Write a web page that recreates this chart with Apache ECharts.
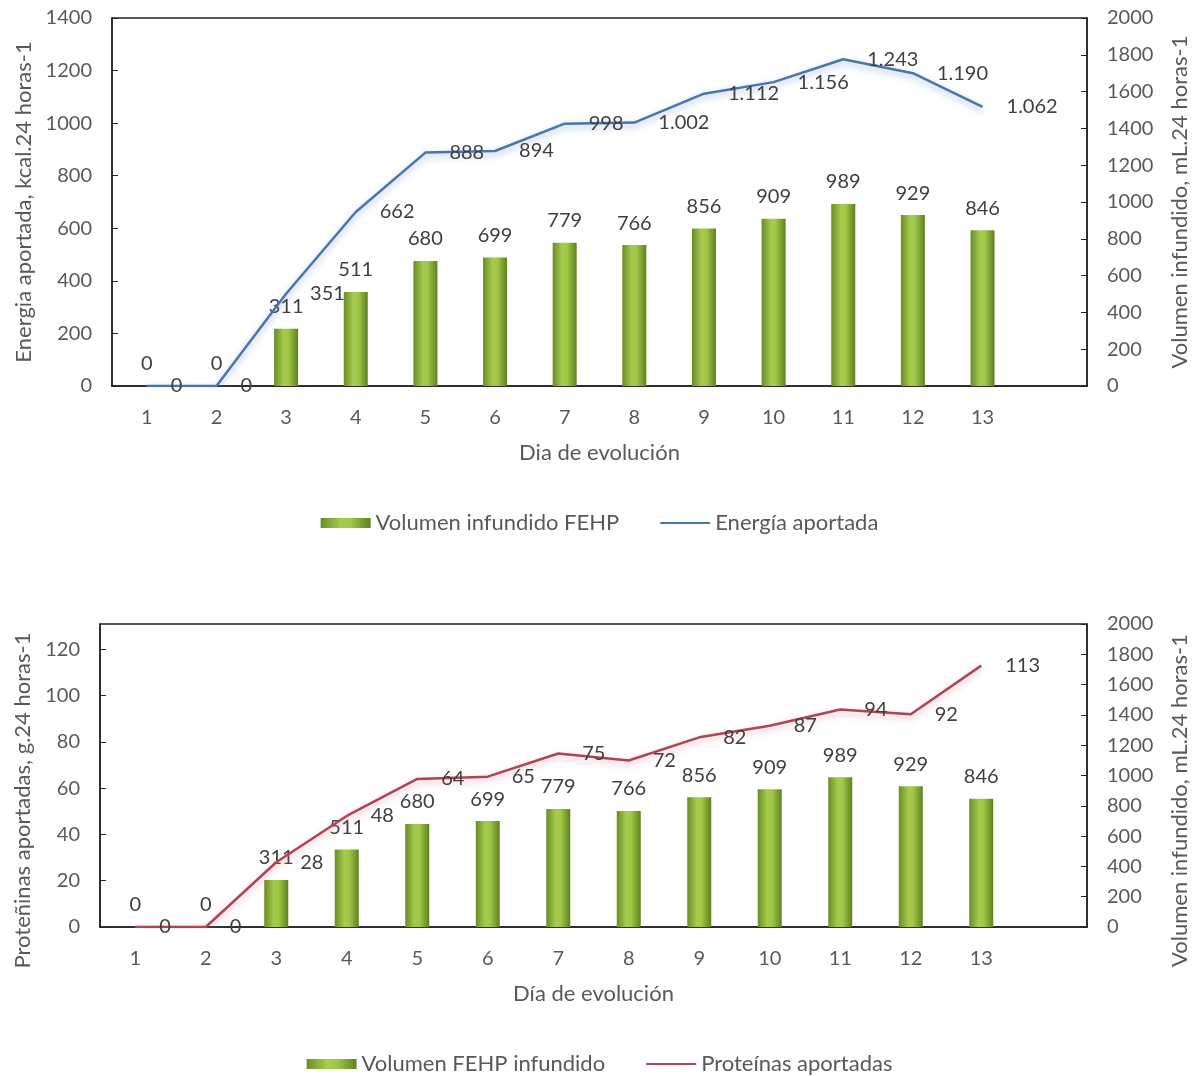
<!DOCTYPE html>
<html>
<head>
<meta charset="utf-8">
<script src="https://cdn.jsdelivr.net/npm/echarts@6/dist/echarts.min.js"></script>
<style>
  html, body { margin: 0; padding: 0; background: #fff; }
  #main { width: 1199px; height: 1076px; }
</style>
</head>
<body>
<div id="main"></div>
<script>
// datos
var dias = ['1', '2', '3', '4', '5', '6', '7', '8', '9', '10', '11', '12', '13', ''];
var volumen = [0, 0, 311, 511, 680, 699, 779, 766, 856, 909, 989, 929, 846];
var energia = [0, 0, 351, 662, 888, 894, 998, 1002, 1112, 1156, 1243, 1190, 1062];
var proteinas = [0, 0, 28, 48, 64, 65, 75, 72, 82, 87, 94, 92, 113];

var fuente = 'Lato';
var gris = '#595959';

function miles(v) {
  return String(v).replace(/\B(?=(\d{3})+(?!\d))/g, '.');
}

var verde = {
  type: 'linear', x: 0, y: 0, x2: 1, y2: 0,
  colorStops: [
    { offset: 0, color: '#6a8c25' },
    { offset: 0.4, color: '#a6cc4e' },
    { offset: 0.6, color: '#a0c748' },
    { offset: 1, color: '#5f801f' }
  ]
};

function ejeY(grid, pos, max, name, gap, pad) {
  return {
    type: 'value',
    gridIndex: grid,
    position: pos,
    min: 0,
    max: max,
    interval: max > 200 ? 200 : 20,
    name: name,
    nameLocation: 'middle',
    nameGap: gap,
    nameTextStyle: { color: gris, fontFamily: fuente, fontSize: 22, padding: pad || 0 },
    axisLine: { show: true, lineStyle: { color: '#222', width: 1.5 } },
    axisTick: { show: true, inside: true, length: 6, lineStyle: { color: '#222' } },
    axisLabel: {
      color: gris, fontFamily: fuente, fontSize: 20, margin: 20,
      formatter: function (v) { return String(v); }
    },
    splitLine: { show: false }
  };
}

function ejeX(grid, name, gap) {
  return {
    type: 'category',
    gridIndex: grid,
    data: dias,
    name: name,
    nameLocation: 'middle',
    nameGap: gap,
    nameTextStyle: { color: gris, fontFamily: fuente, fontSize: 22 },
    axisLine: { lineStyle: { color: '#222', width: 1.5 } },
    axisTick: { show: false },
    axisLabel: { color: gris, fontFamily: fuente, fontSize: 20, margin: 22 }
  };
}

function barras(name, x, y) {
  return {
    name: name,
    type: 'bar',
    xAxisIndex: x,
    yAxisIndex: y,
    data: volumen,
    barWidth: 24,
    itemStyle: { color: verde },
    label: { show: true, position: 'top', distance: 12, color: '#404040', fontFamily: fuente, fontSize: 20 }
  };
}

function linea(name, x, y, datos, color, sombra) {
  return {
    name: name,
    type: 'line',
    xAxisIndex: x,
    yAxisIndex: y,
    data: datos,
    symbol: 'circle',
    symbolSize: 0,
    z: 3,
    itemStyle: { color: color },
    lineStyle: { color: color, width: 2.5, shadowColor: sombra, shadowBlur: 7, shadowOffsetY: 3 },
    label: {
      show: true,
      position: 'right',
      distance: 24,
      color: '#404040',
      fontFamily: fuente,
      fontSize: 20,
      formatter: function (p) { return miles(p.value); }
    }
  };
}

function leyenda(top, barra, lin) {
  return {
    top: top, left: 'center', itemWidth: 50, itemHeight: 10, itemGap: 40,
    textStyle: { color: gris, fontFamily: fuente, fontSize: 22 },
    data: [
      { name: barra, icon: 'rect' },
      { name: lin, itemStyle: { opacity: 0 } }
    ]
  };
}

var option = {
  animation: false,
  grid: [
    { left: 112, top: 18, width: 975, height: 368, show: true, borderColor: '#222', borderWidth: 1.5 },
    { left: 100, top: 624, width: 987, height: 303, show: true, borderColor: '#222', borderWidth: 1.5 }
  ],
  legend: [
    leyenda(507, 'Volumen infundido FEHP', 'Energía aportada'),
    leyenda(1048, 'Volumen FEHP infundido', 'Proteínas aportadas')
  ],
  xAxis: [
    ejeX(0, 'Dia de evolución', 56),
    ejeX(1, 'Día de evolución', 56)
  ],
  yAxis: [
    ejeY(0, 'left', 1400, 'Energia aportada, kcal.24 horas-1', 74),
    ejeY(0, 'right', 2000, 'Volumen infundido, mL.24 horas-1', 82),
    // en el grafico de abajo los titulos de eje quedan algo mas bajos
    ejeY(1, 'left', 131, 'Proteñinas aportadas, g.24 horas-1', 64, [0, 50, 0, 0]),
    ejeY(1, 'right', 2000, 'Volumen infundido, mL.24 horas-1', 82, [0, 50, 0, 0])
  ],
  series: [
    barras('Volumen infundido FEHP', 0, 1),
    linea('Energía aportada', 0, 0, energia, '#4a74aa', 'rgba(79,129,189,0.55)'),
    barras('Volumen FEHP infundido', 1, 3),
    linea('Proteínas aportadas', 1, 2, proteinas, '#ad4555', 'rgba(220,120,130,0.55)')
  ]
};

// el eje de proteinas llega a 131 pero solo se rotula hasta 120
option.yAxis[2].axisLabel.showMaxLabel = false;

var myChart = echarts.init(document.getElementById('main'));
myChart.setOption(option);
</script>
</body>
</html>
